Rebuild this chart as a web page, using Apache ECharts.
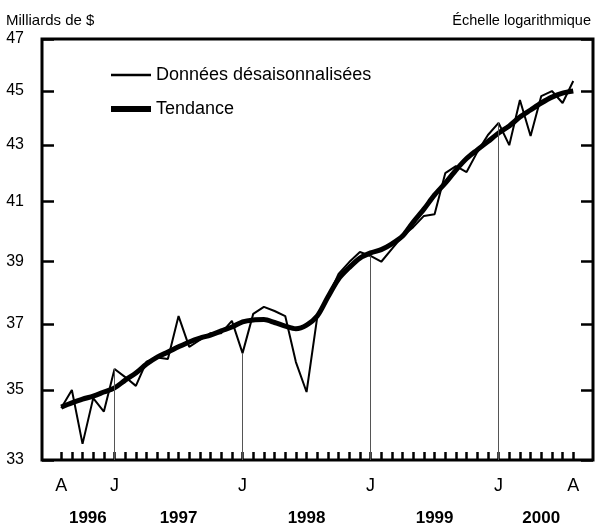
<!DOCTYPE html>
<html>
<head>
<meta charset="utf-8">
<script src="https://cdn.jsdelivr.net/npm/echarts@6/dist/echarts.min.js"></script>
<style>html,body{margin:0;padding:0;background:#fff}#c{width:600px;height:529px}</style>
</head>
<body>
<div id="c"></div>
<script>
// Months: August 1996 .. August 2000
const startYear = 1996, startMonth = 8;
const monthLetters = ['J','F','M','A','M','J','J','A','S','O','N','D'];
const yearLabels = ['1996','1997','1998','1999','2000'];
const yTicks = [33, 35, 37, 39, 41, 43, 45, 47];

const rawSeries = [
  34.47, 35.00, 33.45, 34.76, 34.37, 35.62, 35.38, 35.12, 35.84, 35.97, 35.92, 37.24,
  36.29, 36.50, 36.71, 36.71, 37.09, 36.10, 37.31, 37.53, 37.40, 37.24, 35.83, 34.94,
  37.21, 37.84, 38.58, 38.97, 39.30, 39.17, 38.98, 39.40, 39.83, 40.13, 40.51, 40.57,
  41.99, 42.24, 42.03, 42.74, 43.36, 43.80, 42.99, 44.65, 43.32, 44.80, 44.99, 44.54,
  45.37
];
const trendSeries = [
  34.50, 34.62, 34.73, 34.82, 34.94, 35.06, 35.29, 35.50, 35.77, 35.98, 36.13, 36.29,
  36.44, 36.56, 36.65, 36.78, 36.90, 37.06, 37.12, 37.13, 37.04, 36.93, 36.85, 36.96,
  37.24, 37.84, 38.42, 38.79, 39.10, 39.27, 39.38, 39.57, 39.83, 40.30, 40.74, 41.23,
  41.64, 42.10, 42.51, 42.82, 43.12, 43.43, 43.69, 44.02, 44.28, 44.54, 44.76, 44.91,
  44.99
];

const FONT = '"Liberation Sans", Arial, sans-serif';
const n = rawSeries.length;
const idx = rawSeries.map((_, i) => i);
const monthOf = i => (startMonth - 1 + i) % 12;
const yearOf = i => startYear + Math.floor((startMonth - 1 + i) / 12);
const januaries = idx.filter(i => monthOf(i) === 0);
const labelIdx = [0].concat(januaries, [n - 1]);
const yearCenters = yearLabels.map(y => {
  const ms = idx.filter(i => String(yearOf(i)) === y);
  return (ms[0] + ms[ms.length - 1] + 1) / 2;
});

const chart = echarts.init(document.getElementById('c'), null, {renderer: 'canvas'});
chart.setOption({
  animation: false,
  textStyle: {fontFamily: FONT, color: '#000'},
  title: [
    {text: 'Milliards de $', left: 1, top: 8, textStyle: {fontFamily: FONT, fontSize: 15, fontWeight: 'normal', color: '#000'}},
    {text: 'Échelle logarithmique', right: 4, top: 8, textStyle: {fontFamily: FONT, fontSize: 14.5, fontWeight: 'normal', color: '#000'}}
  ],
  legend: {
    orient: 'vertical', left: 106, top: 61, itemWidth: 40, itemHeight: 14, itemGap: 16,
    textStyle: {fontFamily: FONT, fontSize: 18, color: '#000'},
    data: [
      {name: 'Données désaisonnalisées', icon: 'path://M0,0H40V2.5H0Z', itemStyle: {color: '#000'}},
      {name: 'Tendance', icon: 'path://M0,0H40V6H0Z', itemStyle: {color: '#000'}}
    ]
  },
  grid: {left: 42, right: 7, top: 39, bottom: 69, show: true, borderColor: '#000', borderWidth: 3},
  xAxis: [
    {
      type: 'value', min: -1.8, max: 49.85, position: 'bottom',
      axisLine: {show: false, onZero: false}, splitLine: {show: false},
      axisTick: {show: true, inside: true, length: 8, customValues: idx, lineStyle: {color: '#000', width: 2.5}},
      axisLabel: {
        customValues: labelIdx, margin: 17, fontSize: 18, color: '#000', fontFamily: FONT,
        formatter: v => monthLetters[monthOf(Math.round(v))]
      }
    },
    {
      type: 'value', min: -1.8, max: 49.85, position: 'bottom', offset: 43,
      axisLine: {show: false, onZero: false}, splitLine: {show: false}, axisTick: {show: false},
      axisLabel: {
        customValues: yearCenters, margin: 7, fontSize: 17, fontWeight: 'bold', color: '#000', fontFamily: FONT,
        formatter: v => yearLabels[yearCenters.indexOf(v)]
      }
    }
  ],
  yAxis: [
    {
      type: 'log', logBase: 10, min: 33, max: 47, position: 'left',
      axisLine: {show: false, onZero: false}, splitLine: {show: false},
      axisTick: {show: true, inside: true, length: 12, customValues: yTicks, lineStyle: {color: '#000', width: 2.5}},
      axisLabel: {customValues: yTicks, margin: 18, fontSize: 16, color: '#000', fontFamily: FONT, formatter: v => String(Math.round(v))}
    },
    {
      type: 'log', logBase: 10, min: 33, max: 47, position: 'right',
      axisLine: {show: false, onZero: false}, splitLine: {show: false},
      axisTick: {show: true, inside: true, length: 12, customValues: yTicks, lineStyle: {color: '#000', width: 2.5}},
      axisLabel: {show: false}
    }
  ],
  series: [
    {
      name: 'Données désaisonnalisées', type: 'line', xAxisIndex: 0, yAxisIndex: 0,
      data: rawSeries.map((v, i) => [i, v]), showSymbol: false, symbol: 'none',
      lineStyle: {color: '#000', width: 2}, itemStyle: {color: '#000'}, z: 3,
      markLine: {
        silent: true, symbol: 'none', label: {show: false},
        lineStyle: {color: '#555', width: 1, type: 'solid'},
        data: januaries.map(i => [{coord: [i, rawSeries[i]]}, {coord: [i, yTicks[0]]}])
      }
    },
    {
      name: 'Tendance', type: 'line', xAxisIndex: 0, yAxisIndex: 0,
      data: trendSeries.map((v, i) => [i, v]), showSymbol: false, symbol: 'none', smooth: 0.3,
      lineStyle: {color: '#000', width: 5}, itemStyle: {color: '#000'}, z: 4
    }
  ]
});
</script>
</body>
</html>
